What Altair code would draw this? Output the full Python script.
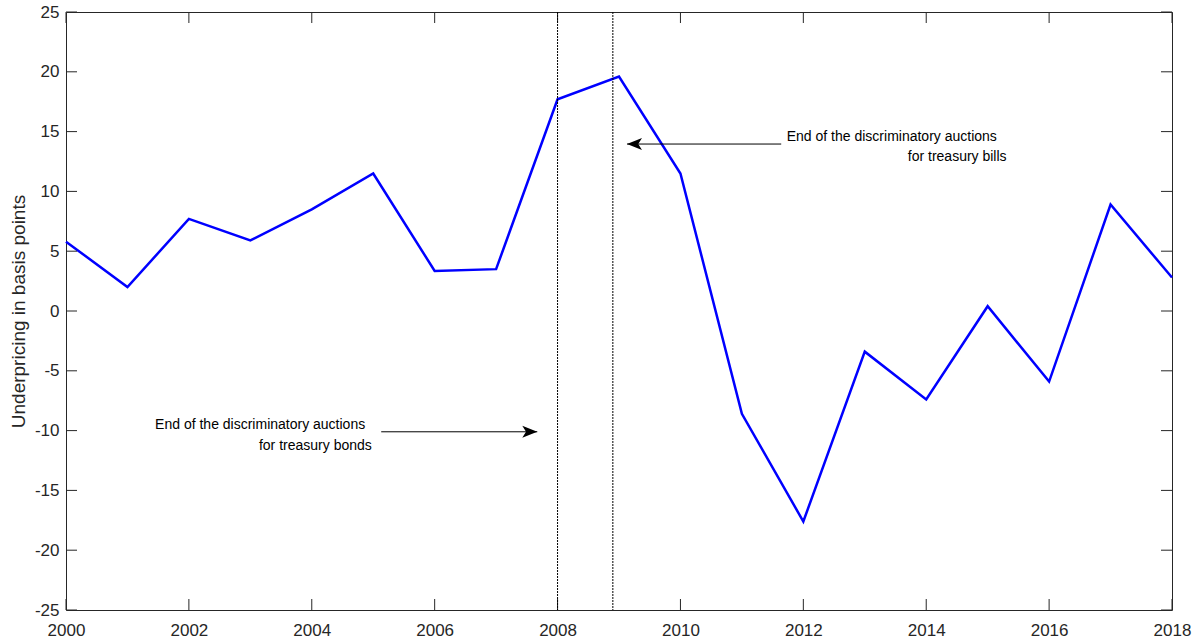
import altair as alt
import pandas as pd

# ---- data ----
years = list(range(2000, 2019))
underpricing = [5.8, 2.0, 7.7, 5.9, 8.5, 11.5, 3.35, 3.5, 17.7, 19.6, 11.5,
                -8.6, -17.6, -3.4, -7.4, 0.4, -5.9, 8.9, 2.8]

vlines = [2008.0, 2008.9]

x_ticks = list(range(2000, 2019, 2))
y_ticks = list(range(-25, 26, 5))

# annotations
ann_text = ["End of the discriminatory auctions", "for treasury bonds",
            "End of the discriminatory auctions", "for treasury bills"]
ann_x = [2001.45, 2003.14, 2011.73, 2013.70]
ann_y = [-9.87, -11.62, 14.2, 12.54]

arrow_tail_x = [2005.13, 2011.64]
arrow_tip_x = [2007.67, 2009.13]
arrow_y = [-10.1, 13.96]
arrow_dir = ["right", "left"]

W, H = 1106, 598

series = pd.DataFrame({"year": years, "v": underpricing})
vl = pd.DataFrame({"x": vlines})
xt = pd.DataFrame({"x": x_ticks})
yt = pd.DataFrame({"y": y_ticks})
ann = pd.DataFrame({"t": ann_text, "x": ann_x, "y": ann_y})
arr = pd.DataFrame({"tail": arrow_tail_x, "tip": arrow_tip_x, "y": arrow_y, "d": arrow_dir})

AX = "#262626"
FONT = "Liberation Sans"
YTITLE = "Underpricing in basis points"


def X(field):
    return alt.X(field, type="quantitative",
                 scale=alt.Scale(domain=[2000, 2018], nice=False, zero=False),
                 title=None,
                 axis=alt.Axis(values=x_ticks, labelExpr="'' + datum.value", ticks=False,
                               domain=False, grid=False, labelFontSize=17, labelColor=AX,
                               labelFont=FONT, labelPadding=12, labelFlush=False))


def Y(field):
    return alt.Y(field, type="quantitative",
                 scale=alt.Scale(domain=[-25, 25], nice=False, zero=False),
                 title=YTITLE,
                 axis=alt.Axis(values=y_ticks, labelExpr="'' + datum.value", ticks=False,
                               domain=False, grid=False, labelFontSize=17, labelColor=AX,
                               labelFont=FONT, labelPadding=7, labelFlush=False,
                               titleFontSize=19, titleFont=FONT, titleColor=AX,
                               titleFontWeight="normal", titlePadding=6))


line = alt.Chart(series).mark_line(color="#0000FF", strokeWidth=2.5).encode(
    x=X("year"), y=Y("v"))

vrules = alt.Chart(vl).mark_rule(color="black", strokeWidth=1, strokeDash=[2, 1]).encode(
    x=X("x"))

arrow_lines = alt.Chart(arr).mark_rule(color="black", strokeWidth=1).encode(
    x=X("tail"), x2="tip:Q", y=Y("y"))

right_head = "M0,0 L-2,-0.8 L-1.5,0 L-2,0.8 Z"
left_head = "M0,0 L2,-0.8 L1.5,0 L2,0.8 Z"

heads_r = alt.Chart(arr).transform_filter(alt.datum.d == "right").mark_point(
    shape=right_head, size=225, filled=True, color="black", opacity=1
).encode(x=X("tip"), y=Y("y"))

heads_l = alt.Chart(arr).transform_filter(alt.datum.d == "left").mark_point(
    shape=left_head, size=225, filled=True, color="black", opacity=1
).encode(x=X("tip"), y=Y("y"))

texts = alt.Chart(ann).mark_text(align="left", baseline="alphabetic", fontSize=14,
                                 font=FONT, color="black").encode(
    x=X("x"), y=Y("y"), text="t:N")

TL = 11
xt_bottom = alt.Chart(xt).mark_rule(color=AX, strokeWidth=1).encode(
    x=X("x"), y=alt.value(H), y2=alt.value(H - TL))
xt_top = alt.Chart(xt).mark_rule(color=AX, strokeWidth=1).encode(
    x=X("x"), y=alt.value(0), y2=alt.value(TL))
yt_left = alt.Chart(yt).mark_rule(color=AX, strokeWidth=1).encode(
    y=Y("y"), x=alt.value(0), x2=alt.value(TL))
yt_right = alt.Chart(yt).mark_rule(color=AX, strokeWidth=1).encode(
    y=Y("y"), x=alt.value(W), x2=alt.value(W - TL))

chart = alt.layer(
    line, xt_bottom, xt_top, yt_left, yt_right, vrules, arrow_lines, heads_r, heads_l, texts
).properties(
    width=W, height=H,
    autosize=alt.AutoSizeParams(type="none"),
    padding={"left": 66, "top": 12, "right": 28, "bottom": 33},
    background="white",
).configure_view(stroke=AX, strokeWidth=1)

chart.save("out.html", embed_options={"renderer": "svg", "actions": False})
